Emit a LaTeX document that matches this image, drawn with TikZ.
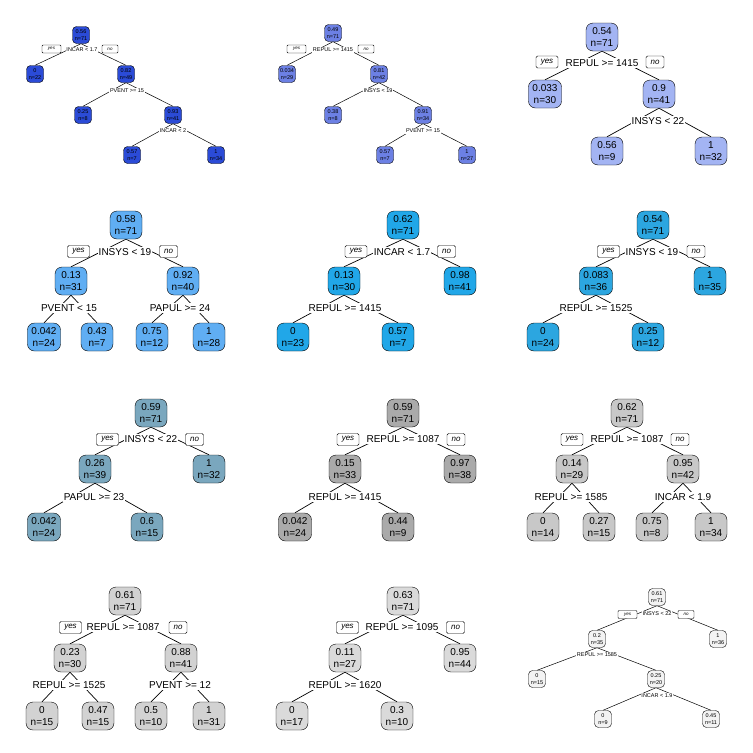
\documentclass[tikz,border=0pt]{standalone}
\usepackage{fontspec}
\setmainfont{Liberation Sans}
\usetikzlibrary{positioning}
\pgfdeclarelayer{bg}
\pgfsetlayers{bg,main}
\definecolor{fillA}{RGB}{43,75,215}
\definecolor{fillB}{RGB}{108,128,228}
\definecolor{fillC}{RGB}{163,180,243}
\definecolor{fillD}{RGB}{96,174,243}
\definecolor{fillE}{RGB}{33,167,232}
\definecolor{fillF}{RGB}{44,166,224}
\definecolor{fillG}{RGB}{122,167,190}
\definecolor{fillH}{RGB}{170,170,170}
\definecolor{fillI}{RGB}{200,200,200}
\definecolor{fillJ}{RGB}{210,210,210}
\definecolor{fillK}{RGB}{218,218,218}
\definecolor{fillL}{RGB}{243,243,243}

\begin{document}
\begin{tikzpicture}[
  x=1pt, y=-1pt,
  tnode/.style={
    draw, fill=#1,
    rounded corners=7pt,
    align=center,
    minimum width=32pt, minimum height=28pt,
    inner xsep=4pt, inner ysep=1pt,
    font=\fontsize{10}{12.5}\selectfont,
  },
  tinynode/.style={
    draw, fill=#1,
    rounded corners=4pt,
    align=center,
    minimum width=17pt, minimum height=17pt,
    inner xsep=1.5pt, inner ysep=0.5pt,
    font=\fontsize{5.5}{7}\selectfont,
  },
  split/.style={fill=white, inner xsep=1pt, inner ysep=1.5pt, font=\fontsize{10}{12}\selectfont},
  tinysplit/.style={fill=white, inner sep=0.8pt, font=\fontsize{5.5}{6.5}\selectfont},
  yesbox/.style={draw, fill=white, rounded corners=1.5pt, minimum width=22pt, minimum height=12pt,
    inner sep=0pt, font=\fontsize{8}{9}\selectfont\itshape},
  nobox/.style={yesbox, minimum width=18pt},
  tinyyes/.style={draw, fill=white, rounded corners=1pt, minimum width=19pt, minimum height=8pt,
    inner sep=0pt, font=\fontsize{4.5}{5}\selectfont\itshape},
  tinyno/.style={tinyyes, minimum width=16pt},
  branch/.style={line width=0.7pt},
  tinybranch/.style={line width=0.5pt},
]
\useasboundingbox (0,0) rectangle (753,753);

% --- tree 1 ---
\node[tinynode=fillA] (t1n) at (81,35) {0.56\\n=71};
\node[tinysplit] (t1s) at (82,50) {INCAR < 1.7};
\node[tinyyes] (t1yes) at (51.5,49) {yes};
\node[tinyno] (t1no) at (110,49) {no};
\node[tinynode=fillA] (t1a) at (35,74) {0\\n=22};
\node[tinynode=fillA] (t1b) at (126,74) {0.82\\n=49};
\node[tinysplit] (t1sb) at (127,91) {PVENT >= 15};
\node[tinynode=fillA] (t1ba) at (83,115) {0.25\\n=8};
\node[tinynode=fillA] (t1bb) at (173,115) {0.93\\n=41};
\node[tinysplit] (t1sbb) at (173,131) {INCAR < 2};
\node[tinynode=fillA] (t1bba) at (132,155) {0.57\\n=7};
\node[tinynode=fillA] (t1bbb) at (216,155) {1\\n=34};
\begin{pgfonlayer}{bg}
\draw[tinybranch] (t1n.south) -- (t1a.north);
\draw[tinybranch] (t1n.south) -- (t1b.north);
\draw[tinybranch] (t1b.south) -- (t1ba.north);
\draw[tinybranch] (t1b.south) -- (t1bb.north);
\draw[tinybranch] (t1bb.south) -- (t1bba.north);
\draw[tinybranch] (t1bb.south) -- (t1bbb.north);
\end{pgfonlayer}

% --- tree 2 ---
\node[tinynode=fillB] (t2n) at (333,33) {0.49\\n=71};
\node[tinysplit] (t2s) at (333,50) {REPUL >= 1415};
\node[tinyyes] (t2yes) at (296.5,49) {yes};
\node[tinyno] (t2no) at (366,49) {no};
\node[tinynode=fillB] (t2a) at (287,74) {0.034\\n=29};
\node[tinynode=fillB] (t2b) at (379,74) {0.81\\n=42};
\node[tinysplit] (t2sb) at (378,91) {INSYS < 19};
\node[tinynode=fillB] (t2ba) at (333,115) {0.38\\n=8};
\node[tinynode=fillB] (t2bb) at (423,115) {0.91\\n=34};
\node[tinysplit] (t2sbb) at (423,131) {PVENT >= 15};
\node[tinynode=fillB] (t2bba) at (385,155) {0.57\\n=7};
\node[tinynode=fillB] (t2bbb) at (467,155) {1\\n=27};
\begin{pgfonlayer}{bg}
\draw[tinybranch] (t2n.south) -- (t2a.north);
\draw[tinybranch] (t2n.south) -- (t2b.north);
\draw[tinybranch] (t2b.south) -- (t2ba.north);
\draw[tinybranch] (t2b.south) -- (t2bb.north);
\draw[tinybranch] (t2bb.south) -- (t2bba.north);
\draw[tinybranch] (t2bb.south) -- (t2bbb.north);
\end{pgfonlayer}

% --- tree 3 ---
\node[tnode=fillC] (t3n) at (602,37) {0.54\\n=71};
\node[split] (t3s) at (602,63) {REPUL >= 1415};
\node[yesbox] (t3yes) at (547,62) {yes};
\node[nobox] (t3no) at (655,62) {no};
\node[tnode=fillC] (t3a) at (545,94) {0.033\\n=30};
\node[tnode=fillC] (t3b) at (659,94) {0.9\\n=41};
\node[split] (t3sb) at (658,121) {INSYS < 22};
\node[tnode=fillC] (t3ba) at (607,151) {0.56\\n=9};
\node[tnode=fillC] (t3bb) at (711,151) {1\\n=32};
\begin{pgfonlayer}{bg}
\draw[branch] (t3n.south) -- (t3a.north);
\draw[branch] (t3n.south) -- (t3b.north);
\draw[branch] (t3b.south) -- (t3ba.north);
\draw[branch] (t3b.south) -- (t3bb.north);
\end{pgfonlayer}

% --- tree 4 ---
\node[tnode=fillD] (t4n) at (126,225) {0.58\\n=71};
\node[split] (t4s) at (125,252) {INSYS < 19};
\node[yesbox] (t4yes) at (78.5,251.5) {yes};
\node[nobox] (t4no) at (168.5,251.5) {no};
\node[tnode=fillD] (t4a) at (71,281) {0.13\\n=31};
\node[tnode=fillD] (t4b) at (183,281) {0.92\\n=40};
\node[split] (t4sa) at (69,308) {PVENT < 15};
\node[split] (t4sb) at (180,308) {PAPUL >= 24};
\node[tnode=fillD] (t4aa) at (44,337) {0.042\\n=24};
\node[tnode=fillD] (t4ab) at (97,337) {0.43\\n=7};
\node[tnode=fillD] (t4ba) at (152,337) {0.75\\n=12};
\node[tnode=fillD] (t4bb) at (209,337) {1\\n=28};
\begin{pgfonlayer}{bg}
\draw[branch] (t4n.south) -- (t4a.north);
\draw[branch] (t4n.south) -- (t4b.north);
\draw[branch] (t4a.south) -- (t4aa.north);
\draw[branch] (t4a.south) -- (t4ab.north);
\draw[branch] (t4b.south) -- (t4ba.north);
\draw[branch] (t4b.south) -- (t4bb.north);
\end{pgfonlayer}

% --- tree 5 ---
\node[tnode=fillE] (t5n) at (403,225) {0.62\\n=71};
\node[split] (t5s) at (402,252) {INCAR < 1.7};
\node[yesbox] (t5yes) at (356,251.5) {yes};
\node[nobox] (t5no) at (446.5,251.5) {no};
\node[tnode=fillE] (t5a) at (344,281) {0.13\\n=30};
\node[tnode=fillE] (t5b) at (460,281) {0.98\\n=41};
\node[split] (t5sa) at (345,308) {REPUL >= 1415};
\node[tnode=fillE] (t5aa) at (293,337) {0\\n=23};
\node[tnode=fillE] (t5ab) at (398,337) {0.57\\n=7};
\begin{pgfonlayer}{bg}
\draw[branch] (t5n.south) -- (t5a.north);
\draw[branch] (t5n.south) -- (t5b.north);
\draw[branch] (t5a.south) -- (t5aa.north);
\draw[branch] (t5a.south) -- (t5ab.north);
\end{pgfonlayer}

% --- tree 6 ---
\node[tnode=fillF] (t6n) at (653,225) {0.54\\n=71};
\node[split] (t6s) at (652,252) {INSYS < 19};
\node[yesbox] (t6yes) at (608.5,251.5) {yes};
\node[nobox] (t6no) at (696,251.5) {no};
\node[tnode=fillF] (t6a) at (596,281) {0.083\\n=36};
\node[tnode=fillF] (t6b) at (710,281) {1\\n=35};
\node[split] (t6sa) at (596,308) {REPUL >= 1525};
\node[tnode=fillF] (t6aa) at (543,337) {0\\n=24};
\node[tnode=fillF] (t6ab) at (648,337) {0.25\\n=12};
\begin{pgfonlayer}{bg}
\draw[branch] (t6n.south) -- (t6a.north);
\draw[branch] (t6n.south) -- (t6b.north);
\draw[branch] (t6a.south) -- (t6aa.north);
\draw[branch] (t6a.south) -- (t6ab.north);
\end{pgfonlayer}

% --- tree 7 ---
\node[tnode=fillG] (t7n) at (151,413) {0.59\\n=71};
\node[split] (t7s) at (151,439) {INSYS < 22};
\node[yesbox] (t7yes) at (107.5,439.5) {yes};
\node[nobox] (t7no) at (194.5,439.5) {no};
\node[tnode=fillG] (t7a) at (95,469) {0.26\\n=39};
\node[tnode=fillG] (t7b) at (209,469) {1\\n=32};
\node[split] (t7sa) at (94,497) {PAPUL >= 23};
\node[tnode=fillG] (t7aa) at (44,527) {0.042\\n=24};
\node[tnode=fillG] (t7ab) at (147,527) {0.6\\n=15};
\begin{pgfonlayer}{bg}
\draw[branch] (t7n.south) -- (t7a.north);
\draw[branch] (t7n.south) -- (t7b.north);
\draw[branch] (t7a.south) -- (t7aa.north);
\draw[branch] (t7a.south) -- (t7ab.north);
\end{pgfonlayer}

% --- tree 8 ---
\node[tnode=fillH] (t8n) at (403,413) {0.59\\n=71};
\node[split] (t8s) at (403,439) {REPUL >= 1087};
\node[yesbox] (t8yes) at (348,439.5) {yes};
\node[nobox] (t8no) at (456,439.5) {no};
\node[tnode=fillH] (t8a) at (345,469) {0.15\\n=33};
\node[tnode=fillH] (t8b) at (460,469) {0.97\\n=38};
\node[split] (t8sa) at (345,497) {REPUL >= 1415};
\node[tnode=fillH] (t8aa) at (295,527) {0.042\\n=24};
\node[tnode=fillH] (t8ab) at (398,527) {0.44\\n=9};
\begin{pgfonlayer}{bg}
\draw[branch] (t8n.south) -- (t8a.north);
\draw[branch] (t8n.south) -- (t8b.north);
\draw[branch] (t8a.south) -- (t8aa.north);
\draw[branch] (t8a.south) -- (t8ab.north);
\end{pgfonlayer}

% --- tree 9 ---
\node[tnode=fillI] (t9n) at (627,413) {0.62\\n=71};
\node[split] (t9s) at (627,439) {REPUL >= 1087};
\node[yesbox] (t9yes) at (572,439.5) {yes};
\node[nobox] (t9no) at (680,439.5) {no};
\node[tnode=fillI] (t9a) at (572,469) {0.14\\n=29};
\node[tnode=fillI] (t9b) at (683,469) {0.95\\n=42};
\node[split] (t9sa) at (571,497) {REPUL >= 1585};
\node[split] (t9sb) at (683,497) {INCAR < 1.9};
\node[tnode=fillI] (t9aa) at (543,527) {0\\n=14};
\node[tnode=fillI] (t9ab) at (599,527) {0.27\\n=15};
\node[tnode=fillI] (t9ba) at (652,527) {0.75\\n=8};
\node[tnode=fillI] (t9bb) at (711,527) {1\\n=34};
\begin{pgfonlayer}{bg}
\draw[branch] (t9n.south) -- (t9a.north);
\draw[branch] (t9n.south) -- (t9b.north);
\draw[branch] (t9a.south) -- (t9aa.north);
\draw[branch] (t9a.south) -- (t9ab.north);
\draw[branch] (t9b.south) -- (t9ba.north);
\draw[branch] (t9b.south) -- (t9bb.north);
\end{pgfonlayer}

% --- tree 10 ---
\node[tnode=fillJ] (t10n) at (125,601) {0.61\\n=71};
\node[split] (t10s) at (123,627) {REPUL >= 1087};
\node[yesbox] (t10yes) at (70.5,627.5) {yes};
\node[nobox] (t10no) at (178,627.5) {no};
\node[tnode=fillJ] (t10a) at (70,658) {0.23\\n=30};
\node[tnode=fillJ] (t10b) at (181,658) {0.88\\n=41};
\node[split] (t10sa) at (69,685) {REPUL >= 1525};
\node[split] (t10sb) at (180,685) {PVENT >= 12};
\node[tnode=fillJ] (t10aa) at (42,716) {0\\n=15};
\node[tnode=fillJ] (t10ab) at (98,716) {0.47\\n=15};
\node[tnode=fillJ] (t10ba) at (151,716) {0.5\\n=10};
\node[tnode=fillJ] (t10bb) at (209,716) {1\\n=31};
\begin{pgfonlayer}{bg}
\draw[branch] (t10n.south) -- (t10a.north);
\draw[branch] (t10n.south) -- (t10b.north);
\draw[branch] (t10a.south) -- (t10aa.north);
\draw[branch] (t10a.south) -- (t10ab.north);
\draw[branch] (t10b.south) -- (t10ba.north);
\draw[branch] (t10b.south) -- (t10bb.north);
\end{pgfonlayer}

% --- tree 11 ---
\node[tnode=fillK] (t11n) at (403,601) {0.63\\n=71};
\node[split] (t11s) at (402,627) {REPUL >= 1095};
\node[yesbox] (t11yes) at (347.5,627.5) {yes};
\node[nobox] (t11no) at (455.5,627.5) {no};
\node[tnode=fillK] (t11a) at (345,658) {0.11\\n=27};
\node[tnode=fillK] (t11b) at (460,658) {0.95\\n=44};
\node[split] (t11sa) at (345,685) {REPUL >= 1620};
\node[tnode=fillK] (t11aa) at (292,716) {0\\n=17};
\node[tnode=fillK] (t11ab) at (397,716) {0.3\\n=10};
\begin{pgfonlayer}{bg}
\draw[branch] (t11n.south) -- (t11a.north);
\draw[branch] (t11n.south) -- (t11b.north);
\draw[branch] (t11a.south) -- (t11aa.north);
\draw[branch] (t11a.south) -- (t11ab.north);
\end{pgfonlayer}

% --- tree 12 ---
\node[tinynode=fillL] (t12n) at (657,597) {0.61\\n=71};
\node[tinysplit] (t12s) at (657,614) {INSYS < 22};
\node[tinyyes] (t12yes) at (627.5,614.5) {yes};
\node[tinyno] (t12no) at (686,614.5) {no};
\node[tinynode=fillL] (t12a) at (597,639) {0.2\\n=35};
\node[tinynode=fillL] (t12b) at (718,639) {1\\n=36};
\node[tinysplit] (t12sa) at (597,655) {REPUL >= 1585};
\node[tinynode=fillL] (t12aa) at (537,679) {0\\n=15};
\node[tinynode=fillL] (t12ab) at (656,679) {0.25\\n=20};
\node[tinysplit] (t12sab) at (657,696) {INCAR < 1.9};
\node[tinynode=fillL] (t12aba) at (603,719) {0\\n=9};
\node[tinynode=fillL] (t12abb) at (711,719) {0.45\\n=11};
\begin{pgfonlayer}{bg}
\draw[tinybranch] (t12n.south) -- (t12a.north);
\draw[tinybranch] (t12n.south) -- (t12b.north);
\draw[tinybranch] (t12a.south) -- (t12aa.north);
\draw[tinybranch] (t12a.south) -- (t12ab.north);
\draw[tinybranch] (t12ab.south) -- (t12aba.north);
\draw[tinybranch] (t12ab.south) -- (t12abb.north);
\end{pgfonlayer}
\end{tikzpicture}
\end{document}
